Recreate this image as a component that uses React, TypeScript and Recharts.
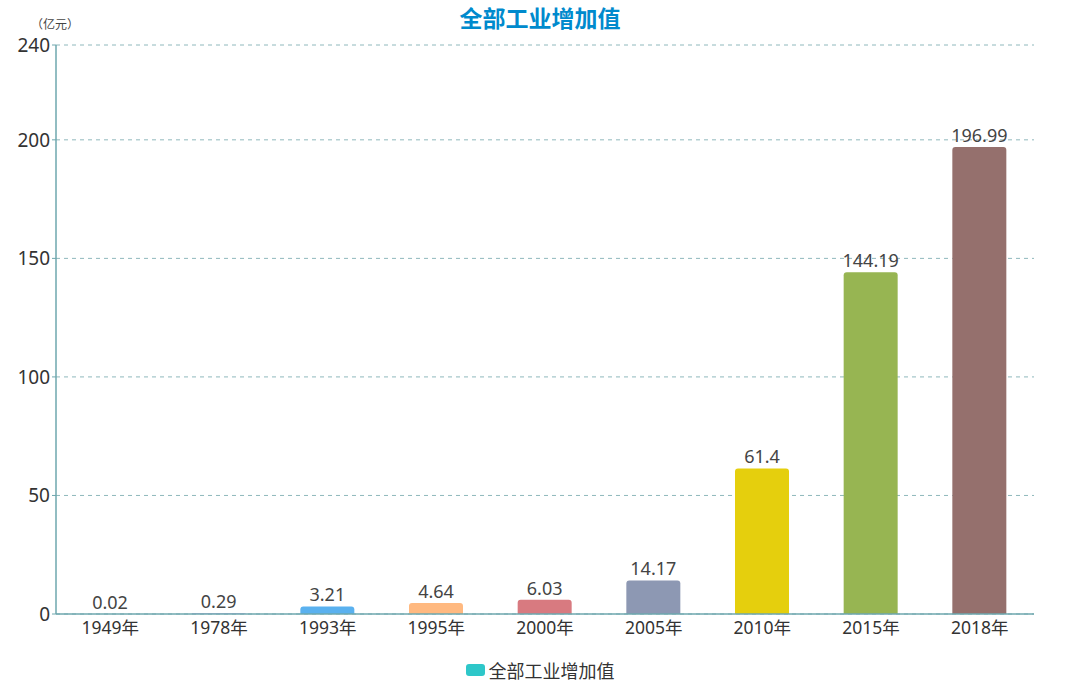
import { BarChart, Bar, XAxis, YAxis, CartesianGrid, Legend, Cell, LabelList } from "recharts";

const YEARS = ["1949年", "1978年", "1993年", "1995年", "2000年", "2005年", "2010年", "2015年", "2018年"];
const VALUES = [0.02, 0.29, 3.21, 4.64, 6.03, 14.17, 61.4, 144.19, 196.99];
const BAR_COLORS = ["#2ec7c9", "#b6a2de", "#5ab1ef", "#ffb980", "#d87a80", "#8d98b3", "#e5cf0d", "#97b552", "#95706d"];
const Y_TICKS = [0, 50, 100, 150, 200, 240];
const SERIES_NAME = "全部工业增加值";

const FONT = "'Noto Sans', 'Noto Sans CJK SC', sans-serif";
const AXIS_COLOR = "#6ea7ae";

const data = YEARS.map((y, i) => ({ year: y, value: VALUES[i] }));

const LegendContent = () => (
  <div style={{ display: "flex", justifyContent: "center", alignItems: "center", gap: 4, paddingTop: 8, fontFamily: FONT }}>
    <span style={{ width: 19, height: 12, borderRadius: 3, background: "#2ec7c9", display: "inline-block" }} />
    <span style={{ fontSize: 18, color: "#333" }}>{SERIES_NAME}</span>
  </div>
);

export default function App() {
  if (typeof document !== "undefined") document.body.style.margin = "0";
  return (
    <div style={{ position: "relative", width: 1080, height: 683, background: "#fff", fontFamily: FONT }}>
      <div style={{
        position: "absolute", top: 0, left: 0, width: 1080, textAlign: "center",
        fontSize: 23, fontWeight: "bold", color: "#008acd", zIndex: 2,
      }}>
        {SERIES_NAME}
      </div>
      <div style={{ position: "absolute", top: 15, left: 31, fontSize: 12, color: "#444", zIndex: 2 }}>
        （亿元）
      </div>
      <BarChart
        width={1080}
        height={683}
        data={data}
        margin={{ top: 45, right: 46, left: 0, bottom: 0 }}
      >
        <CartesianGrid vertical={false} strokeDasharray="4 4" stroke="#8fb8bc" />
        <XAxis
          dataKey="year"
          height={35}
          tickLine={false}
          axisLine={{ stroke: AXIS_COLOR, strokeWidth: 1.5 }}
          tick={{ fill: "#333", fontSize: 17.5, fontFamily: FONT }}
          interval={0}
        />
        <YAxis
          width={56}
          domain={[0, 240]}
          ticks={Y_TICKS}
          interval={0}
          tickSize={4}
          tickLine={{ stroke: AXIS_COLOR }}
          axisLine={{ stroke: AXIS_COLOR, strokeWidth: 1.5 }}
          tick={{ fill: "#333", fontSize: 19, fontFamily: FONT }}
        />
        <Legend
          verticalAlign="bottom"
          height={34}
          content={<LegendContent />}
          wrapperStyle={{ left: 0, width: 1080 }}
        />
        <Bar dataKey="value" name={SERIES_NAME} barSize={54} radius={[3, 3, 0, 0]} isAnimationActive={false}>
          {data.map((d, i) => (
            <Cell key={d.year} fill={BAR_COLORS[i]} />
          ))}
          <LabelList dataKey="value" position="top" offset={5} style={{ fill: "#444", fontSize: 18, fontFamily: FONT }} />
        </Bar>
      </BarChart>
    </div>
  );
}
